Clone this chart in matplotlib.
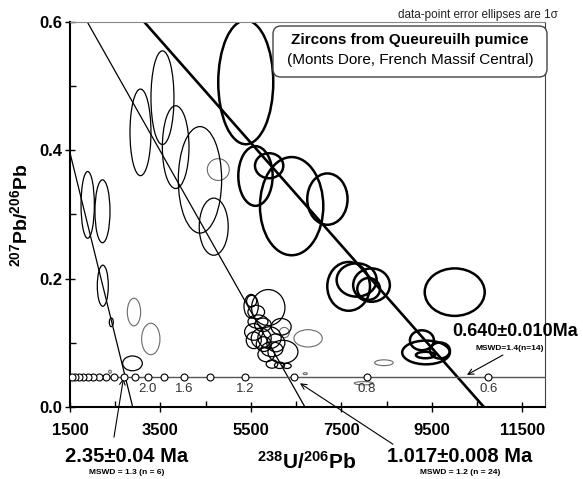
import matplotlib
matplotlib.use("Agg")
import matplotlib.pyplot as plt
from matplotlib.patches import Ellipse, FancyBboxPatch
from matplotlib.transforms import IdentityTransform

plt.rcParams['font.family'] = ['Liberation Sans', 'DejaVu Sans']
plt.rcParams['mathtext.fontset'] = 'custom'
plt.rcParams['mathtext.rm'] = 'Liberation Sans'
plt.rcParams['mathtext.bf'] = 'Liberation Sans:bold'

# concordia age marks (Ma) and their 238U/206Pb positions
conc_y = 0.046
mark_x = [10745, 8059, 6446, 5372, 4605, 4029, 3581, 3223, 2930, 2686,
          2479, 2302, 2149, 2014, 1896, 1791, 1696, 1612, 1535]
age_labels = ["0.6", "0.8", "1.2", "1.6", "2.0"]
age_label_x = [10745, 8059, 5372, 4029, 3223]

# regression lines (end points)
line_a = ([1500, 2886], [0.396, 0.0])
line_b = ([1883, 6693], [0.6, 0.0])
line_c = ([3142, 10649], [0.6, 0.0])

# 2.35 Ma group (thin)
a_x = [1891, 2218, 2225, 2413, 2881]
a_y = [0.315, 0.305, 0.189, 0.132, 0.068]
a_w = [294, 332, 243, 88, 435]
a_h = [0.104, 0.098, 0.064, 0.0135, 0.023]

# 1.017 Ma group (thin)
b_x = [3058, 3544, 3836, 4373, 4677, 5883, 5504, 5515, 5655, 5562, 5765, 5562,
       5727, 5783, 5911, 6207, 5966, 5838, 5966, 6132, 6298, 5617, 6168, 6050]
b_y = [0.428, 0.482, 0.405, 0.354, 0.281, 0.155, 0.157, 0.165, 0.133, 0.117, 0.128, 0.104,
       0.107, 0.098, 0.108, 0.086, 0.090, 0.082, 0.067, 0.065, 0.064, 0.148, 0.125, 0.100]
b_w = [464, 508, 589, 958, 641, 737, 317, 221, 442, 405, 369, 332,
       442, 332, 516, 663, 479, 369, 258, 221, 184, 369, 442, 400]
b_h = [0.135, 0.146, 0.129, 0.166, 0.089, 0.056, 0.037, 0.018, 0.021, 0.026, 0.021, 0.026,
       0.031, 0.023, 0.034, 0.036, 0.023, 0.023, 0.013, 0.010, 0.008, 0.021, 0.026, 0.028]

# 0.640 Ma group (thick)
c_x = [5385, 5600, 5902, 6399, 7190, 7659, 7836, 8165, 8101, 10004, 9279, 9370, 9677, 9357]
c_y = [0.506, 0.360, 0.376, 0.313, 0.324, 0.188, 0.198, 0.190, 0.184, 0.179, 0.104, 0.085, 0.088, 0.081]
c_w = [1216, 759, 626, 1400, 891, 944, 884, 811, 502, 1326, 530, 1054, 442, 420]
c_h = [0.193, 0.093, 0.039, 0.153, 0.080, 0.076, 0.052, 0.052, 0.034, 0.074, 0.031, 0.037, 0.025, 0.010]

# rejected analyses (grey)
g_x = [2914, 3286, 2384, 4778, 6236, 6763, 8440, 6700, 7993]
g_y = [0.148, 0.106, 0.055, 0.370, 0.116, 0.107, 0.069, 0.052, 0.037]
g_w = [295, 405, 60, 486, 221, 626, 410, 90, 420]
g_h = [0.043, 0.049, 0.005, 0.034, 0.016, 0.027, 0.009, 0.003, 0.005]

fig = plt.figure(figsize=(5.83, 4.79), dpi=100)
ax = fig.add_axes([70/583, 72/479, 475/583, 385/479])
ax.set_xlim(1500, 12000)
ax.set_ylim(0, 0.6)

def draw(xs, ys, ws, hs, lw, color):
    for x, y, w, h in zip(xs, ys, ws, hs):
        ax.add_patch(Ellipse((x, y), w, h, fill=False, lw=lw, edgecolor=color))

draw(g_x, g_y, g_w, g_h, 0.8, '#6a6a6a')
draw(a_x, a_y, a_w, a_h, 0.9, 'black')
draw(b_x, b_y, b_w, b_h, 0.9, 'black')
draw(c_x, c_y, c_w, c_h, 1.8, 'black')

ax.plot(*line_a, color='black', lw=0.9)
ax.plot(*line_b, color='black', lw=0.9)
ax.plot(*line_c, color='black', lw=1.9)

# concordia
ax.axhline(conc_y, color='#555555', lw=1.0, zorder=3)
ax.plot(mark_x, [conc_y]*len(mark_x), 'o', ms=5, mfc='white', mec='black', mew=0.8, zorder=4)
for lab, x in zip(age_labels, age_label_x):
    ax.text(x, 0.028, lab, ha='center', va='center', fontsize=9.5, color='#333333')

# axes styling
ax.set_xticks(range(1500, 12000, 2000))
ax.set_xticks(range(2500, 12000, 2000), minor=True)
ax.set_yticks([0.0, 0.2, 0.4, 0.6])
ax.set_yticks([0.1, 0.3, 0.5], minor=True)
ax.set_yticklabels(["0.0", "0.2", "0.4", "0.6"])
ax.tick_params(which='major', direction='inout', length=7, width=1, labelsize=12)
ax.tick_params(axis='x', which='major', pad=8)
ax.tick_params(axis='y', which='major', pad=2)
ax.tick_params(which='minor', direction='in', length=4, width=1)
for lab in ax.get_xticklabels() + ax.get_yticklabels():
    lab.set_fontweight('bold')
ax.spines['left'].set_linewidth(1.5)
ax.spines['bottom'].set_linewidth(1.5)
ax.spines['top'].set_color('#888888')
ax.spines['right'].set_color('#444444')

fig.text(307/583, 1-462/479, r'$\mathbf{^{238}U/^{206}Pb}$', ha='center', va='center', fontsize=15)
fig.text(20/583, 1-215/479, r'$\mathbf{^{207}Pb/^{206}Pb}$', ha='center', va='center',
         fontsize=14, rotation=90)

fig.text(558/583, 1-15/479, 'data-point error ellipses are 1σ', ha='right', va='center',
         fontsize=8.5, color='#222222')

box = FancyBboxPatch((273, 479-77), 274, 51, boxstyle='round,pad=0,rounding_size=8',
                     transform=IdentityTransform(), facecolor='white', edgecolor='#444444', lw=1)
fig.patches.append(box)
fig.text(410/583, 1-40/479, 'Zircons from Queureuilh pumice', ha='center', va='center',
         fontsize=11, fontweight='bold')
fig.text(410/583, 1-60/479, '(Monts Dore, French Massif Central)', ha='center', va='center',
         fontsize=11)

# age annotations
arrow = dict(arrowstyle='->', lw=0.8, color='black', shrinkA=0, shrinkB=0)
ax.annotate('', xy=(2682, 0.045), xytext=(2472, -0.047), arrowprops=arrow, annotation_clip=False)
ax.annotate('', xy=(6583, 0.037), xytext=(8638, -0.058), arrowprops=arrow, annotation_clip=False)
ax.annotate('', xy=(10274, 0.050), xytext=(11069, 0.081), arrowprops=arrow, annotation_clip=False)

fig.text(127/583, 1-456/479, '2.35±0.04 Ma', ha='center', va='center', fontsize=14.5, fontweight='bold')
fig.text(127/583, 1-473/479, 'MSWD = 1.3 (n = 6)', ha='center', va='center', fontsize=6, fontweight='bold')
fig.text(460/583, 1-456/479, '1.017±0.008 Ma', ha='center', va='center', fontsize=14.5, fontweight='bold')
fig.text(460/583, 1-473/479, 'MSWD = 1.2 (n = 24)', ha='center', va='center', fontsize=6, fontweight='bold')
fig.text(515/583, 1-332/479, '0.640±0.010Ma', ha='center', va='center', fontsize=13, fontweight='bold')
fig.text(510/583, 1-348/479, 'MSWD=1.4(n=14)', ha='center', va='center', fontsize=6, fontweight='bold')

fig.savefig('out.png', dpi=100)
